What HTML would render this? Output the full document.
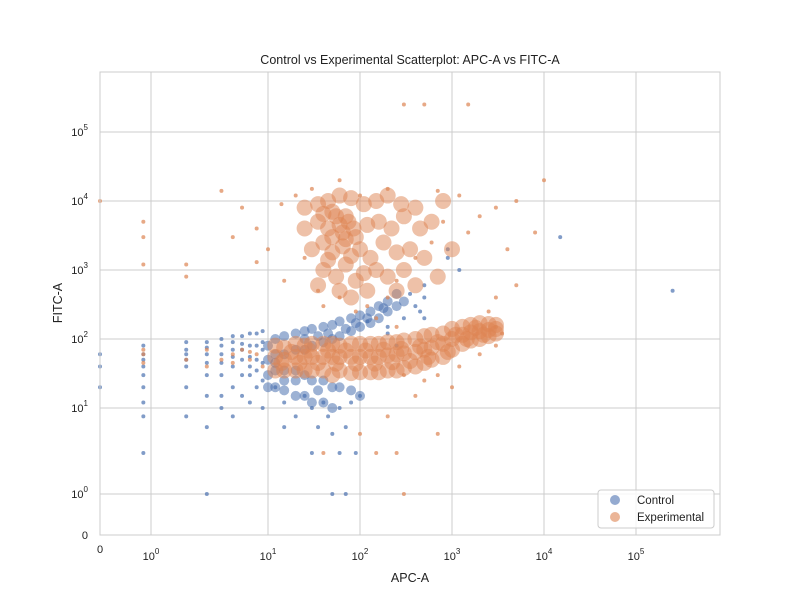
<!DOCTYPE html>
<html><head><meta charset="utf-8"><style>
body{margin:0;background:#fff;}
svg text{font-family:"Liberation Sans",sans-serif;fill:#222;}
</style></head><body>
<svg id="chart" width="800" height="600" xmlns="http://www.w3.org/2000/svg">
<rect width="800" height="600" fill="#fff"/>
<text x="410" y="64" font-size="12.5" text-anchor="middle">Control vs Experimental Scatterplot: APC-A vs FITC-A</text>
<text x="410" y="582" font-size="12.5" text-anchor="middle">APC-A</text>
<text x="62" y="303" font-size="12.5" text-anchor="middle" transform="rotate(-90 62 303)">FITC-A</text>
<g id="grid"></g><g id="marks"></g><g id="ticks"></g>
<rect x="100" y="72" width="620" height="463" fill="none" stroke="#ccc"/>
<g>
<rect x="598" y="490" width="116" height="38" rx="3" fill="#fff" fill-opacity="0.8" stroke="#ccc"/>
<g><circle cx="615" cy="500" r="5" fill="#4c72b0" fill-opacity="0.6"/><text x="637" y="504" font-size="11.5">Control</text></g>
<g><circle cx="615" cy="517" r="5" fill="#dd8452" fill-opacity="0.6"/><text x="637" y="521" font-size="11.5">Experimental</text></g>
</g>
</svg>
<script>
const xTicks=[0,1,10,100,1000,10000,100000];
const yTicks=[0,1,10,100,1000,10000,100000];
const tickExp=["0","0","1","2","3","4","5"];
const controlCore=[10,50,10,80,10,30,10,20,12,60,12,100,12,35,12,20,15,60,15,110,15,35,15,18,20,70,20,120,20,35,20,15,25,70,25,130,25,30,25,15,30,80,30,140,30,25,30,12,40,90,40,150,40,25,40,12,50,100,50,160,50,20,50,10,60,110,60,180,60,20,80,130,80,200,80,18,100,150,100,220,100,15,130,170,130,250,160,200,160,300,200,250,200,350,250,300,250,450,300,350,
12,45,15,25,20,25,25,100,35,110,45,120,35,18,70,140,90,170,120,200,180,280];
const experimentalCore=[12,55,12,80,12,35,15,50,15,75,15,35,20,55,20,85,20,35,25,55,25,80,25,35,30,55,30,85,30,35,40,55,40,85,40,35,50,55,50,85,50,30,60,55,60,80,60,35,80,55,80,85,80,32,100,55,100,85,100,33,130,55,130,85,130,33,160,55,160,85,160,33,200,58,200,90,200,35,250,60,250,90,250,35,300,62,300,95,300,38,400,65,400,100,400,40,500,70,500,110,500,45,600,75,600,115,600,50,800,85,800,120,800,55,1000,100,1000,140,1000,70,1300,115,1300,150,1300,85,1600,125,1600,160,1600,95,2000,130,2000,170,2000,100,2500,135,2500,165,2500,110,3000,140,3000,160,3000,120,
14,45,18,65,22,45,28,68,35,45,45,68,55,44,70,68,90,44,115,68,145,44,180,70,225,46,280,72,350,48,450,78,550,55,700,90,900,65,1100,115,1450,100,1800,145,2200,115,
25,8000,35,9000,45,10000,60,12000,80,11000,110,9000,150,10000,200,12000,280,9000,400,8000,25,4000,35,5000,45,4000,55,6000,65,3500,75,5000,90,3000,120,4500,160,5000,220,4000,300,6000,450,4000,600,5000,30,2000,40,2500,50,1800,65,2200,80,1600,100,2000,130,1500,180,2500,250,1800,350,2000,500,1500,40,1000,55,800,70,1200,90,700,110,900,150,1000,200,800,300,1000,60,500,80,400,120,500,250,500,400,600,700,800,1000,2000,800,10000,35,600,50,7000,70,6000,40,6500,60,4500,50,3000,70,2800,45,1400,85,4000];
const controlPts=[0,60,0,40,0,20,0.85,80,0.85,60,0.85,40,0.85,20,0.85,12,0.85,8,0.85,3,0.85,50,0.85,30,2,90,2,60,2,40,2,20,2,8,2,50,2,70,3,90,3,60,3,30,3,15,3,6,3,45,3,75,4,100,4,60,4,30,4,15,4,10,4,45,4,80,5,110,5,70,5,40,5,20,5,8,5,55,5,90,6,110,6,70,6,30,6,15,6,50,6,85,7,120,7,80,7,30,7,12,7,55,7,40,8,120,8,50,8,20,8,80,8,35,9,130,9,45,9,25,9,10,9,70,9,90,
12,20,15,12,20,8,25,15,30,10,35,6,40,12,45,8,50,5,60,10,70,6,80,12,100,15,30,3,60,3,90,3,50,1,70,1,3,1,15,6,
200,150,300,200,400,300,500,400,350,450,450,250,900,1500,900,2000,1200,1000,500,600,15000,3000,250000,500,200,120,120,180,500,200,250,80];
const experimentalPts=[0,10000,0.85,5000,0.85,3000,0.85,1200,2,1200,2,800,4,14000,5,3000,6,8000,8,4000,8,1300,10,2000,14,9000,15,700,20,12000,25,1500,0.85,60,2,50,3,70,4,50,5,60,6,70,7,50,8,60,9,40,0.85,45,0.85,70,3,40,5,45,7,65,
30,15000,35,500,40,300,60,400,90,250,120,300,200,400,250,700,400,1500,600,2500,800,5000,1200,12000,1500,3500,2000,6000,3000,8000,4000,2000,5000,10000,8000,3500,10000,20000,5000,600,3000,400,
300,250000,500,250000,1500,250000,700,14000,200,15000,100,12000,60,20000,150,200,250,150,300,30,500,25,700,30,1200,40,2000,60,3000,80,1000,20,400,15,200,8,150,3,250,3,300,1,40,3,100,5,700,5,3000,150,2500,250,3500,120];
function sx(v){return v<=1?100+51*v:(v<=10?151+117*Math.log10(v):268+92*(Math.log10(v)-1));}
function sy(v){return v<=1?535-41*v:(v<=10?494-86*Math.log10(v):408-69*(Math.log10(v)-1));}
const NS="http://www.w3.org/2000/svg";
const grid=document.getElementById('grid'),marks=document.getElementById('marks'),ticks=document.getElementById('ticks');
xTicks.forEach((t,i)=>{const x=sx(t);
 const l=document.createElementNS(NS,'line');l.setAttribute('x1',x);l.setAttribute('x2',x);l.setAttribute('y1',72);l.setAttribute('y2',535);l.setAttribute('stroke','#ccc');
 
 grid.appendChild(l);
 const tx=document.createElementNS(NS,'text');tx.setAttribute('x',x);tx.setAttribute('y',553);tx.setAttribute('font-size','11');tx.setAttribute('text-anchor','middle');
 
 
 if(i===0){tx.textContent='0';}else{tx.innerHTML='10<tspan dy="-6" font-size="8">'+tickExp[i]+'</tspan>';tx.setAttribute('y',560);}
 ticks.appendChild(tx);});
yTicks.forEach((t,i)=>{const y=sy(t);
 const l=document.createElementNS(NS,'line');l.setAttribute('x1',100);l.setAttribute('x2',720);l.setAttribute('y1',y);l.setAttribute('y2',y);l.setAttribute('stroke','#ccc');
 
 grid.appendChild(l);
 const tx=document.createElementNS(NS,'text');tx.setAttribute('x',88);tx.setAttribute('y',y+4);tx.setAttribute('font-size','11');tx.setAttribute('text-anchor','end');
 
 
 if(i===0){tx.textContent='0';}else{tx.innerHTML='10<tspan dy="-6" font-size="8">'+tickExp[i]+'</tspan>';}
 ticks.appendChild(tx);});
function draw(arr,color,r,op,name){for(let i=0;i<arr.length;i+=2){const c=document.createElementNS(NS,'circle');
 c.setAttribute('cx',sx(arr[i]));c.setAttribute('cy',sy(arr[i+1]));c.setAttribute('r',r);c.setAttribute('fill',color);c.setAttribute('fill-opacity',op);
 
 marks.appendChild(c);}}
draw(controlCore,'#4c72b0',5,0.55,'control-point');
draw(controlPts,'#4c72b0',2,0.7,'control-point');
draw(experimentalCore,'#dd8452',8,0.5,'experimental-point');
draw(experimentalPts,'#dd8452',2,0.7,'experimental-point');
</script>
</body></html>
